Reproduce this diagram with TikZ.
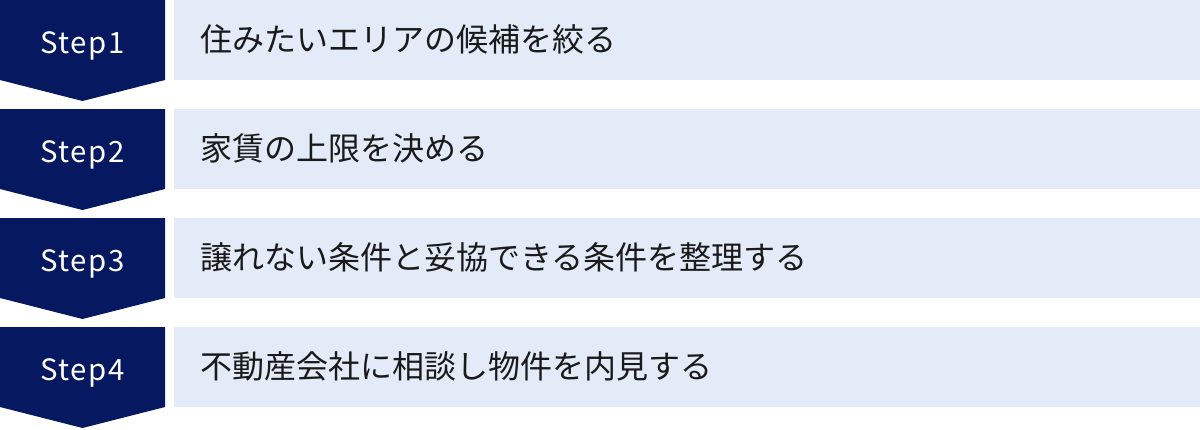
\documentclass[tikz,border=0pt]{standalone}
\usepackage{fontspec}
\setmainfont{Noto Sans CJK JP}
\newfontfamily\steplatin[LetterSpace=5]{Noto Sans CJK JP}
\definecolor{stepnavy}{HTML}{06185F}
\definecolor{steplight}{HTML}{E4EBF8}
\definecolor{textblack}{HTML}{1A1A1A}

\begin{document}
\begin{tikzpicture}[x=0.75pt,y=-0.75pt,
	stepshape/.style={fill=stepnavy},
	stepband/.style={fill=steplight},
	steplabel/.style={text=white,inner sep=0pt,anchor=base,font=\steplatin\fontsize{22}{26}\selectfont},
	steptext/.style={text=textblack,inner sep=0pt,anchor=base west,font=\fontsize{24}{28}\selectfont}]
	\useasboundingbox (0,0) rectangle (1200,429);
	% Step 1
	\fill[stepshape] (0,0) -- (165,0) -- (165,80) -- (82.5,101) -- (0,80) -- cycle;
	\fill[stepband] (174,0) rectangle (1200,80);
	\node[steplabel] (s1) at (82.5,53) {Step1};
	\node[steptext] (t1) at (200,51) {住みたいエリアの候補を絞る};
	% Step 2
	\fill[stepshape] (0,109) -- (165,109) -- (165,189) -- (82.5,210) -- (0,189) -- cycle;
	\fill[stepband] (174,109) rectangle (1200,189);
	\node[steplabel] (s2) at (82.5,162) {Step2};
	\node[steptext] (t2) at (200,160) {家賃の上限を決める};
	% Step 3
	\fill[stepshape] (0,218) -- (165,218) -- (165,298) -- (82.5,319) -- (0,298) -- cycle;
	\fill[stepband] (174,218) rectangle (1200,298);
	\node[steplabel] (s3) at (82.5,271) {Step3};
	\node[steptext] (t3) at (200,269) {譲れない条件と妥協できる条件を整理する};
	% Step 4
	\fill[stepshape] (0,327) -- (165,327) -- (165,407) -- (82.5,428) -- (0,407) -- cycle;
	\fill[stepband] (174,327) rectangle (1200,407);
	\node[steplabel] (s4) at (82.5,380) {Step4};
	\node[steptext] (t4) at (200,378) {不動産会社に相談し物件を内見する};
\end{tikzpicture}
\end{document}
